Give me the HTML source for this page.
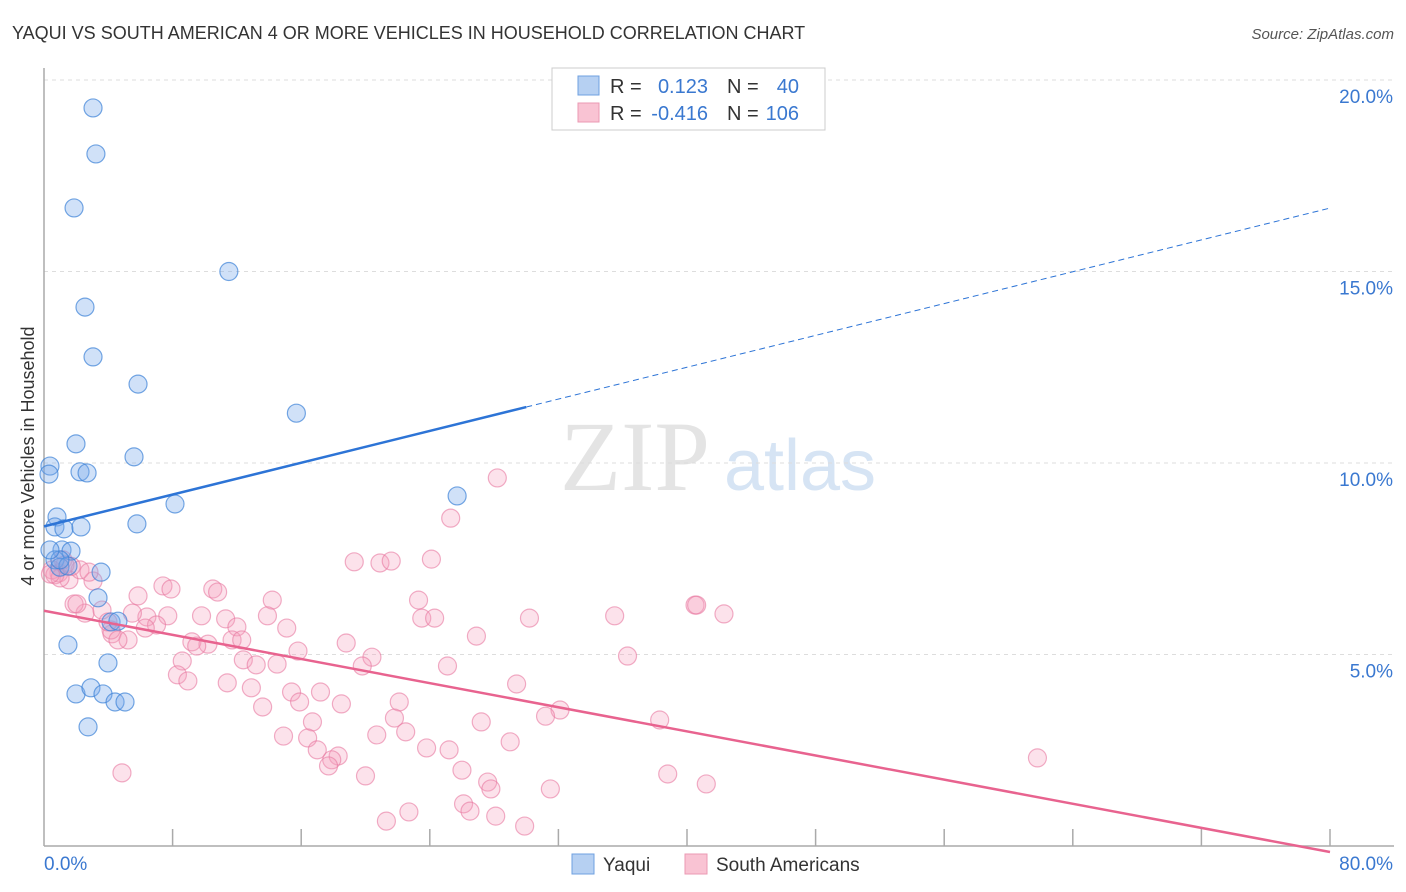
<!DOCTYPE html>
<html><head><meta charset="utf-8"><style>
body{margin:0;background:#fff;font-family:"Liberation Sans",sans-serif;}
svg{display:block}
</style></head><body>
<svg id="chart" width="1406" height="892" viewBox="0 0 1406 892" xmlns="http://www.w3.org/2000/svg">
<text x="12" y="39" font-size="18" fill="#333">YAQUI VS SOUTH AMERICAN 4 OR MORE VEHICLES IN HOUSEHOLD CORRELATION CHART</text>
<text x="1394" y="39" font-size="15" fill="#555" font-style="italic" text-anchor="end">Source: ZipAtlas.com</text>
<g>
<text x="635" y="490" font-size="100" fill="#e4e4e4" font-family="Liberation Serif,serif" text-anchor="middle">ZIP</text>
<text x="800" y="490" font-size="72" fill="#d6e4f4" text-anchor="middle">atlas</text>
</g>
<g id="grid"></g>
<g id="axes"></g>
<g id="marks"></g>
<text transform="translate(34,456) rotate(-90)" font-size="18" fill="#333" text-anchor="middle">4 or more Vehicles in Household</text>
<g>
<rect x="552" y="68" width="273" height="62" fill="#fff" stroke="#ccc"/>
<rect x="578" y="76" width="21" height="19" fill="#b6d0f2" stroke="#6fa0e0"/>
<rect x="578" y="103" width="21" height="19" fill="#f9c3d3" stroke="#eb9ab3"/>
<text x="610" y="93" font-size="20" fill="#333">R = </text><text x="708" y="93" font-size="20" fill="#3a78d0" text-anchor="end">0.123</text>
<text x="727" y="93" font-size="20" fill="#333">N = </text><text x="799" y="93" font-size="20" fill="#3a78d0" text-anchor="end">40</text>
<text x="610" y="120" font-size="20" fill="#333">R = </text><text x="708" y="120" font-size="20" fill="#3a78d0" text-anchor="end">-0.416</text>
<text x="727" y="120" font-size="20" fill="#333">N = </text><text x="799" y="120" font-size="20" fill="#3a78d0" text-anchor="end">106</text>
</g>
<g>
<rect x="572" y="854" width="22" height="20" fill="#b6d0f2" stroke="#6fa0e0"/>
<text x="603" y="871" font-size="19" fill="#333">Yaqui</text>
<rect x="685" y="854" width="22" height="20" fill="#f9c3d3" stroke="#eb9ab3"/>
<text x="716" y="871" font-size="19" fill="#333">South Americans</text>
</g>
</svg>
<script>
const yTicks=[5,10,15,20];
const yTickLabels=["5.0%","10.0%","15.0%","20.0%"];
const xEndLabels=["0.0%","80.0%"];
const yaquiX=[3.05,3.23,1.87,11.5,2.55,3.05,5.85,15.7,1.99,5.6,0.37,0.31,2.24,2.68,8.15,25.7,0.81,0.68,1.24,2.3,5.78,1.12,1.68,0.68,3.55,0.99,1.49,3.36,4.17,4.6,1.49,3.98,1.99,2.92,3.67,4.42,5.04,2.74,0.99,0.37];
const yaquiY=[19.27,18.07,16.66,15.0,14.07,12.77,12.06,11.3,10.5,10.16,9.92,9.71,9.77,9.74,8.93,9.14,8.59,8.33,8.28,8.33,8.41,7.73,7.7,7.47,7.15,7.28,7.31,6.48,5.85,5.87,5.25,4.78,3.97,4.13,3.97,3.76,3.76,3.11,7.47,7.73];
const saX=[28.2,25.3,19.3,20.9,21.6,24.1,7.4,7.9,10.5,10.8,3.05,5.85,14.2,23.3,40.5,40.6,42.3,35.5,30.2,23.5,24.3,13.9,11.3,9.8,7.7,6.4,5.5,2.55,3.61,1.87,2.05,7.0,6.3,4.23,5.23,4.17,12.0,15.1,11.7,12.3,9.2,10.2,9.5,18.8,26.9,36.3,15.8,20.4,12.4,8.6,13.2,14.5,19.8,25.1,8.3,8.95,11.4,12.9,29.4,15.4,17.2,15.9,18.5,22.1,13.6,32.1,31.2,21.8,16.7,27.2,38.3,20.7,22.5,14.9,16.4,29.0,23.8,25.2,17.0,18.3,17.9,17.7,26.0,20.0,4.85,38.8,27.6,27.8,31.5,41.2,61.8,26.1,26.5,22.7,28.1,21.3,29.9,1.18,0.93,0.5,1.55,2.24,0.68,1.3,2.8,3.98,4.6,1.0,1.7,0.4];
const saY=[9.61,8.56,7.42,7.39,7.44,7.49,6.79,6.71,6.71,6.63,6.92,6.53,6.42,6.42,6.29,6.29,6.06,6.01,5.95,5.95,5.95,6.01,5.93,6.01,6.01,5.98,6.08,6.08,6.16,6.32,6.32,5.77,5.69,5.54,5.38,5.64,5.72,5.69,5.38,5.38,5.33,5.27,5.22,5.3,5.48,4.96,5.09,4.93,4.86,4.83,4.73,4.75,4.7,4.7,4.47,4.31,4.26,4.13,4.23,4.02,4.02,3.76,3.71,3.76,3.63,3.55,3.39,3.34,3.24,3.24,3.29,2.9,2.98,2.87,2.82,2.72,2.56,2.51,2.51,2.35,2.25,2.09,1.98,1.83,1.91,1.88,1.67,1.49,1.49,1.62,2.3,1.1,0.91,0.89,0.78,0.65,0.52,7.47,7.13,7.21,6.95,7.21,7.08,7.34,7.15,5.85,5.38,7.0,7.3,7.1];
const X0=44,X1=1330,Y0=846,YPER=38.3;
const sx=v=>X0+(v/80)*(X1-X0);
const sy=v=>Y0-v*YPER;
const NS="http://www.w3.org/2000/svg";
function mk(parent,tag,attrs){const e=document.createElementNS(NS,tag);for(const k in attrs)e.setAttribute(k,attrs[k]);document.getElementById(parent).appendChild(e);return e;}
yTicks.forEach((t,i)=>{
  const g=mk('grid','line',{x1:X0,x2:1394,y1:sy(t),y2:sy(t),stroke:'#ddd','stroke-dasharray':'4,4'});
  
  
  const l=mk('axes','text',{x:1393,y:sy(t)+23,'font-size':19,fill:'#3a78d0','text-anchor':'end'});
  l.textContent=yTickLabels[i];
  
  
});
const ya=mk('axes','line',{x1:X0,x2:X0,y1:68,y2:Y0,stroke:'#aaa','stroke-width':1.5});


const xa=mk('axes','line',{x1:X0,x2:1394,y1:Y0,y2:Y0,stroke:'#aaa','stroke-width':1.5});


for(let i=1;i<=10;i++){
  const t=mk('axes','line',{x1:sx(i*8),x2:sx(i*8),y1:829,y2:Y0,stroke:'#aaa','stroke-width':1.5});
  
  
}
const xl0=mk('axes','text',{x:44,y:870,'font-size':19,fill:'#3a78d0'});xl0.textContent=xEndLabels[0];


const xl1=mk('axes','text',{x:1393,y:870,'font-size':19,fill:'#3a78d0','text-anchor':'end'});xl1.textContent=xEndLabels[1];


function reg(xs,ys){const n=xs.length;let mx=0,my=0;for(let i=0;i<n;i++){mx+=xs[i];my+=ys[i];}mx/=n;my/=n;let sxy=0,sxx=0;for(let i=0;i<n;i++){sxy+=(xs[i]-mx)*(ys[i]-my);sxx+=(xs[i]-mx)**2;}const b=sxy/sxx;return [my-b*mx,b];}
saX.forEach((x,i)=>{
  const c=mk('marks','circle',{cx:sx(x),cy:sy(saY[i]),r:9,fill:'rgba(244,160,190,0.3)',stroke:'rgba(232,120,160,0.6)','stroke-width':1.2});
  
  
});
yaquiX.forEach((x,i)=>{
  const c=mk('marks','circle',{cx:sx(x),cy:sy(yaquiY[i]),r:9,fill:'rgba(120,170,235,0.35)',stroke:'rgba(60,130,215,0.7)','stroke-width':1.2});
  
  
});
const [ba,bb]=reg(yaquiX,yaquiY);
const xs=Math.max(...yaquiX)+4.3;
const bl=mk('marks','line',{x1:sx(0),y1:sy(ba),x2:sx(xs),y2:sy(ba+bb*xs),stroke:'#2d74d6','stroke-width':2.5});


const bd=mk('marks','line',{x1:sx(xs),y1:sy(ba+bb*xs),x2:sx(80),y2:sy(ba+bb*80),stroke:'#2d74d6','stroke-width':1,'stroke-dasharray':'6,4'});


const [pa,pb]=reg(saX,saY);
const pl=mk('marks','line',{x1:sx(0),y1:sy(pa),x2:sx(80),y2:sy(pa+pb*80),stroke:'#e8638f','stroke-width':2.5});


</script>
</body></html>
